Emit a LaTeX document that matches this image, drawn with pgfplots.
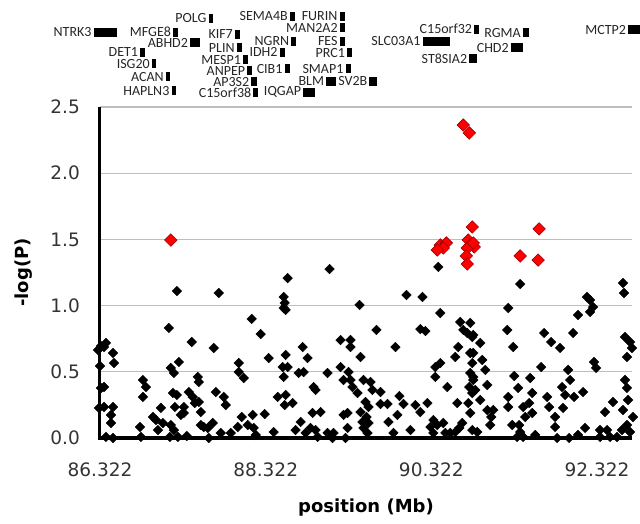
\documentclass[border=0pt]{standalone}
\usepackage{pgfplots}
\pgfplotsset{compat=1.18}
\usepackage{pgfplotstable}
\usepackage{fontspec}
\setmainfont{DejaVu Sans}
\newfontfamily\genefont{Carlito}

\definecolor{gridgray}{RGB}{190,190,190}
\definecolor{hitred}{RGB}{255,0,0}
\definecolor{hitedge}{RGB}{160,0,0}

% gene track: box start (Mb), box width (Mb), row height on the -log(P) scale
\pgfplotstableread{
name start width y
NTRK3 86.246 0.281 3.066
MFGE8 87.205 0.060 3.066
POLG 87.632 0.060 3.172
ABHD2 87.410 0.120 2.987
DET1 86.808 0.057 2.912
ISG20 86.949 0.048 2.825
ACAN 87.117 0.052 2.727
HAPLN3 87.186 0.052 2.621
SEMA4B 88.615 0.057 3.187
FURIN 89.214 0.060 3.187
KIF7 87.952 0.060 3.051
MAN2A2 89.217 0.057 3.097
PLIN 87.973 0.068 2.946
NGRN 88.632 0.060 2.998
FES 89.217 0.057 2.998
IDH2 88.491 0.060 2.915
PRC1 89.306 0.060 2.908
MESP1 88.049 0.060 2.855
CIB1 88.551 0.060 2.787
SMAP1 89.286 0.060 2.787
ANPEP 88.101 0.060 2.772
AP3S2 88.150 0.072 2.689
BLM 89.053 0.120 2.696
SV2B 89.575 0.092 2.696
C15orf38 88.174 0.056 2.606
IQGAP 88.776 0.136 2.613
SLC03A1 90.217 0.334 2.995
C15orf32 90.840 0.060 3.089
RGMA 91.427 0.072 3.059
CHD2 91.282 0.145 2.946
ST8SIA2 90.780 0.092 2.866
MCTP2 92.699 0.141 3.082
}\genes

\pgfplotstableread{
pos logp
87.177 1.495
90.708 2.364
90.780 2.304
90.816 1.594
90.768 1.495
90.792 1.458
90.840 1.443
90.756 1.435
90.744 1.375
90.756 1.314
90.430 1.458
90.503 1.473
90.466 1.435
90.394 1.420
90.828 1.473
91.394 1.375
91.623 1.579
91.611 1.344
}\hits

\pgfplotstableread{
pos logp
86.298 0.665
86.334 0.695
86.394 0.718
86.370 0.687
86.322 0.544
86.370 0.385
86.334 0.378
86.310 0.227
86.370 0.234
86.479 0.642
86.491 0.566
86.479 0.234
86.455 0.174
86.455 0.113
86.394 0.008
86.479 0.000
86.840 0.438
86.876 0.385
86.840 0.310
86.804 0.083
86.816 0.008
86.961 0.159
86.997 0.136
87.057 0.227
87.021 0.060
87.081 0.113
87.153 0.831
87.250 1.110
87.177 0.529
87.214 0.491
87.274 0.574
87.202 0.340
87.250 0.325
87.226 0.234
87.298 0.174
87.177 0.098
87.214 0.060
87.165 0.008
87.262 0.008
87.370 0.015
87.394 0.347
87.430 0.725
87.503 0.461
87.515 0.423
87.442 0.310
87.467 0.264
87.515 0.272
87.539 0.196
87.334 0.234
87.334 0.189
87.539 0.098
87.575 0.083
87.623 0.076
87.635 0.000
87.695 0.680
87.756 1.095
87.720 0.347
87.816 0.310
87.840 0.249
87.683 0.113
87.780 0.038
87.900 0.038
87.985 0.083
88.033 0.159
87.997 0.566
87.997 0.498
88.057 0.453
88.153 0.899
88.165 0.174
88.105 0.098
88.177 0.076
88.262 0.785
88.310 0.181
88.358 0.604
88.467 0.310
88.527 0.536
88.551 1.020
88.539 0.982
88.563 0.325
88.587 1.208
88.418 0.045
88.202 0.023
88.539 1.065
88.563 0.967
89.093 1.276
89.455 1.005
89.659 0.816
89.888 0.687
90.021 1.080
90.214 1.065
90.189 0.823
90.250 0.808
90.406 1.292
90.430 0.944
90.671 0.876
90.708 0.816
90.792 0.869
90.756 0.793
90.816 0.763
90.647 0.687
90.792 0.642
90.816 0.566
90.792 0.491
90.828 0.438
90.780 0.385
90.816 0.340
90.768 0.264
90.792 0.189
90.635 0.264
90.611 0.612
90.515 0.385
90.370 0.536
90.430 0.566
90.370 0.461
90.310 0.083
90.346 0.136
90.394 0.098
90.466 0.113
90.346 0.038
90.491 0.038
90.551 0.038
90.611 0.045
90.659 0.076
90.695 0.113
90.816 0.060
88.563 0.627
88.587 0.536
88.539 0.461
88.551 0.249
88.647 0.264
88.768 0.687
88.828 0.604
88.780 0.498
88.720 0.491
88.900 0.385
88.924 0.363
88.888 0.189
88.985 0.196
88.864 0.076
88.924 0.060
88.744 0.121
88.683 0.060
88.804 0.038
89.069 0.491
89.226 0.740
89.346 0.740
89.346 0.687
89.226 0.536
89.322 0.498
89.346 0.438
89.262 0.438
89.370 0.385
89.467 0.612
89.430 0.340
89.503 0.438
89.587 0.423
89.611 0.363
89.527 0.272
89.563 0.234
89.708 0.347
89.467 0.196
89.539 0.159
89.491 0.121
89.563 0.113
89.503 0.076
89.551 0.038
89.708 0.257
89.792 0.257
89.804 0.121
89.936 0.317
89.985 0.257
89.912 0.174
90.129 0.249
90.189 0.196
90.274 0.264
90.069 0.060
89.864 0.038
89.262 0.174
89.310 0.189
89.310 0.076
89.141 0.038
89.069 0.038
89.286 0.000
89.129 0.000
88.949 0.008
90.828 0.778
90.912 0.718
90.828 0.642
90.936 0.589
90.973 0.514
90.828 0.461
90.852 0.363
90.997 0.400
90.912 0.287
90.997 0.211
91.069 0.211
91.045 0.159
91.033 0.098
90.876 0.045
91.394 1.163
91.250 0.982
91.238 0.816
91.310 0.687
91.322 0.468
91.370 0.378
91.515 0.453
91.539 0.340
91.250 0.310
91.250 0.234
91.430 0.234
91.503 0.264
91.539 0.189
91.455 0.159
91.382 0.098
91.298 0.098
91.394 0.045
91.358 0.008
91.430 0.008
91.575 0.023
91.647 0.536
91.683 0.793
91.768 0.725
91.876 0.680
91.720 0.310
91.744 0.234
91.816 0.159
91.912 0.227
91.937 0.325
91.900 0.385
91.816 0.083
91.840 0.000
91.973 0.514
91.997 0.438
92.033 0.793
92.045 0.310
92.153 0.347
92.093 0.929
92.201 1.065
92.238 1.042
92.274 0.989
92.238 0.952
92.286 0.574
92.310 0.529
92.177 0.076
92.093 0.023
91.985 0.000
92.358 0.060
92.443 0.060
92.419 0.196
92.515 0.272
92.635 1.171
92.647 1.095
92.659 0.763
92.720 0.725
92.744 0.680
92.683 0.612
92.659 0.438
92.683 0.378
92.695 0.287
92.635 0.211
92.756 0.159
92.683 0.098
92.623 0.060
92.720 0.045
92.479 0.008
92.563 0.008
92.358 0.008
}\snps

\begin{document}
\begin{tikzpicture}
\begin{axis}[
  at={(100bp,86bp)}, anchor=south west,
  scale only axis, width=532bp, height=331bp,
  xmin=86.322, xmax=92.744, ymin=0, ymax=2.5,
  clip=false,
  axis x line*=bottom, axis y line*=left,
  axis line style={black, -},
  major tick length=0pt,
  xtick={86.322,88.322,90.322,92.322},
  xticklabels={86.322,88.322,90.322,92.322},
  ytick={0,0.5,1,1.5,2,2.5},
  yticklabels={0.0,0.5,1.0,1.5,2.0,2.5},
  ticklabel style={font=\fontsize{18.5bp}{20bp}\selectfont, text=black!80},
  xticklabel style={anchor=north, inner sep=0pt, yshift=-25bp},
  yticklabel style={anchor=east, inner sep=0pt, xshift=-20bp},
  ymajorgrids,
  grid style={gridgray, line width=1.3bp},
  xlabel={position (Mb)},
  ylabel={-log(P)},
  every axis x label/.style={at={(axis description cs:0.5,-0.211)}, anchor=center,
    font=\bfseries\fontsize{18bp}{20bp}\selectfont},
  every axis y label/.style={at={(axis description cs:-0.143,0.5)}, anchor=center, rotate=90,
    font=\bfseries\fontsize{18bp}{20bp}\selectfont},
]
% heavy axis frame (left and bottom)
\draw[line width=3bp, black] (rel axis cs:0,1) -- (rel axis cs:0,0) -- (rel axis cs:1,0);
\addplot[only marks, mark=square*, mark size=3.4bp,
  mark options={rotate=45, fill=black, draw=black}] table[x=pos, y=logp] {\snps};
\addplot[only marks, mark=square*, mark size=4.4bp,
  mark options={rotate=45, fill=hitred, draw=hitedge, line width=0.6bp}] table[x=pos, y=logp] {\hits};
\addplot[only marks, mark=none,
  nodes near coords, point meta=explicit symbolic,
  every node near coord/.append style={anchor=east, inner xsep=2bp, inner ysep=0pt,
    font=\genefont\fontsize{14bp}{14.5bp}\selectfont, text=black!85},
  error bars/.cd, x dir=plus, x explicit, error mark=none,
  error bar style={line width=9bp, draw=black}]
  table[x=start, y=y, x error=width, meta=name] {\genes};
\end{axis}
\pgfresetboundingbox
\path[use as bounding box] (0,0) rectangle (640bp,524bp);
\end{tikzpicture}
\end{document}
